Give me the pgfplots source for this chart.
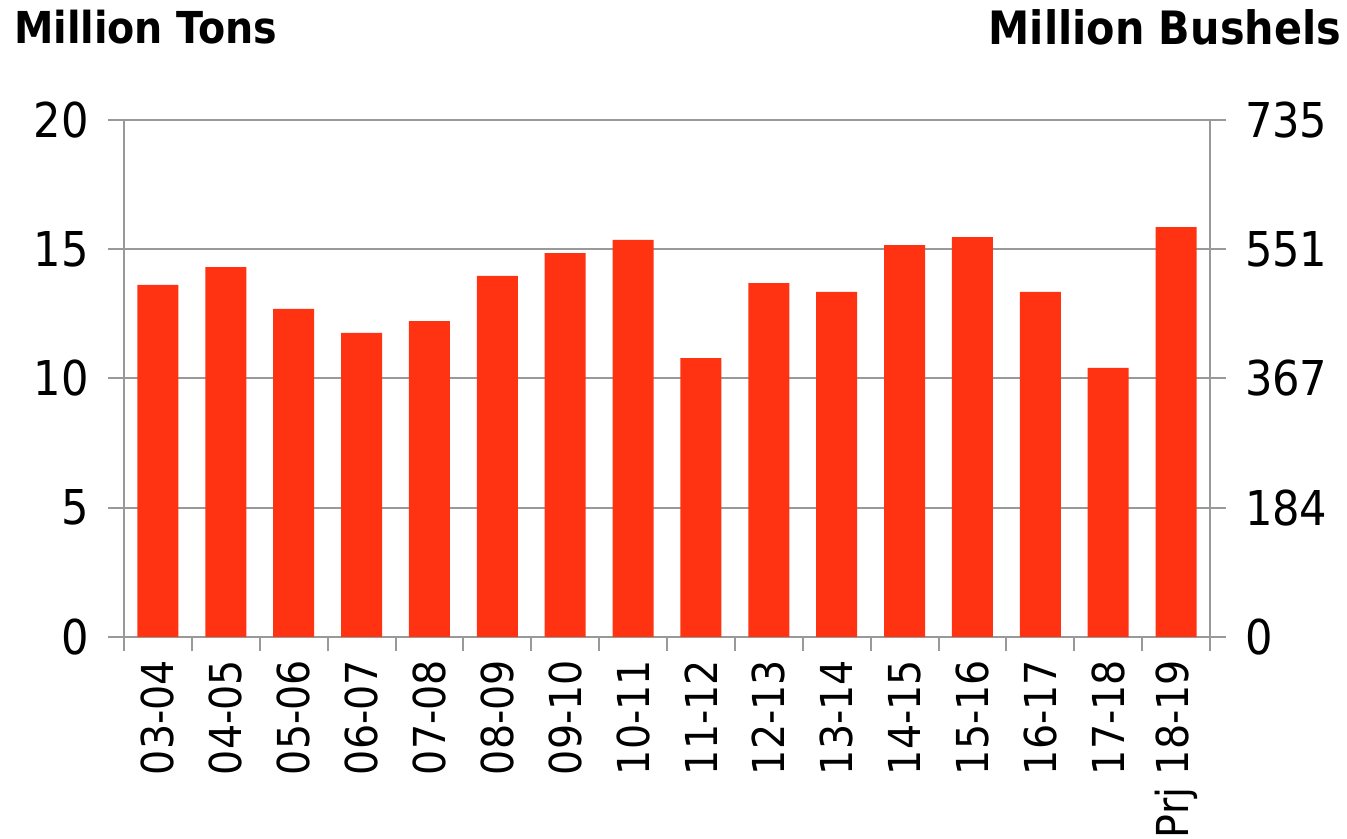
\documentclass[border=0pt]{standalone}
\usepackage{fontspec}
\setmainfont{DejaVu Sans Condensed}
\usepackage{pgfplots}
\usepackage{pgfplotstable}
\pgfplotsset{compat=1.18}
\definecolor{barRed}{RGB}{255,51,17}
\definecolor{axGray}{RGB}{153,153,153}

% production by marketing year, million tons
\pgfplotstableread{
idx val
0 13.62
1 14.31
2 12.69
3 11.76
4 12.22
5 13.97
6 14.85
7 15.36
8 10.79
9 13.69
10 13.35
11 15.16
12 15.47
13 13.35
14 10.41
15 15.86
}\prodtable

\begin{document}
\begin{tikzpicture}
\useasboundingbox (-62pt,-101pt) rectangle (611.5pt,318.5pt);
\begin{axis}[
  at={(0,0)}, anchor=south west,
  scale only axis, width=543pt, height=258.5pt,
  xmin=-0.5, xmax=15.5, ymin=0, ymax=20,
  ytick={0,5,10,15,20},
  xtick={0,...,15},
  xticklabels={03-04,04-05,05-06,06-07,07-08,08-09,09-10,10-11,11-12,12-13,13-14,14-15,15-16,16-17,17-18,Prj 18-19},
  minor xtick={-0.5,0.5,...,15.5},
  axis x line*=bottom, axis y line*=left,
  axis line style={axGray, line width=1pt},
  ymajorgrids, grid style={axGray, line width=1pt},
  tick align=outside,
  major tick length=8pt, minor tick length=7pt,
  major x tick style={draw=none},
  every tick/.style={axGray, line width=1pt},
  minor tick style={axGray, line width=1pt},
  /pgf/number format/assume math mode=true,
  tick label style={font=\fontsize{24}{28}\selectfont},
  xticklabel style={rotate=90, anchor=east, font=\fontsize{22}{26}\selectfont},
  yticklabel style={xshift=-6pt},
]
\addplot[ybar, bar width=20.5pt, fill=barRed, draw=none] table[x=idx, y=val] {\prodtable};
\end{axis}
\begin{axis}[
  at={(0,0)}, anchor=south west,
  scale only axis, width=543pt, height=258.5pt,
  xmin=-0.5, xmax=15.5, ymin=0, ymax=735,
  ytick={0,183.75,367.5,551.25,735},
  yticklabels={0,184,367,551,735},
  axis x line=none, axis y line*=right,
  axis line style={axGray, line width=1pt},
  tick align=outside, major tick length=8pt,
  every tick/.style={axGray, line width=1pt},
  tick label style={font=\fontsize{24}{28}\selectfont},
  yticklabel style={xshift=6pt},
]
\addplot[draw=none, forget plot] coordinates {(0,0)};
\end{axis}
\node[anchor=west, font=\bfseries\fontsize{22}{26}\selectfont] at (-58.5pt,305pt) {Million Tons};
\node[anchor=east, font=\bfseries\fontsize{23}{27}\selectfont] at (612pt,305pt) {Million Bushels};
\end{tikzpicture}
\end{document}
